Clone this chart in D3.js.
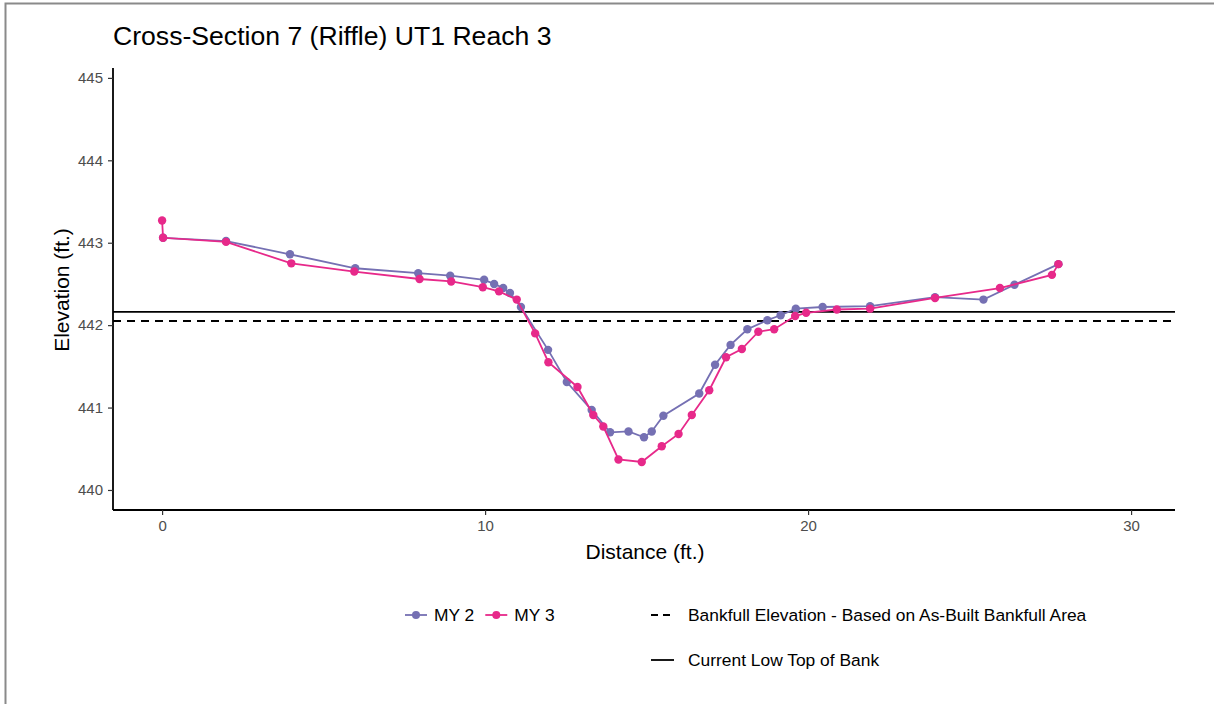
<!DOCTYPE html>
<html>
<head>
  <meta charset="utf-8">
  <title>Cross-Section 7 (Riffle) UT1 Reach 3</title>
  <script src="https://cdn.jsdelivr.net/npm/d3@7"></script>
  <style>
    body { margin: 0; background: #fff; }
    svg text { font-family: "Liberation Sans", Arial, sans-serif; }
  </style>
</head>
<body>
<svg id="chart" width="1214" height="704"></svg>
<script>
// survey points, distance (ft.) and elevation (ft.)
var my2Dist = [0.03, 1.98, 3.96, 5.98, 7.93, 8.92, 9.97, 10.28, 10.56, 10.77, 11.11, 11.95, 12.53, 13.3, 13.87, 14.44, 14.92, 15.16, 15.52, 16.63, 17.12, 17.6, 18.12, 18.74, 19.15, 19.62, 20.45, 21.92, 23.93, 25.43, 26.39, 27.75];
var my2Elev = [443.06, 443.02, 442.86, 442.69, 442.63, 442.60, 442.55, 442.50, 442.45, 442.39, 442.22, 441.70, 441.31, 440.97, 440.70, 440.71, 440.64, 440.71, 440.90, 441.17, 441.52, 441.76, 441.95, 442.06, 442.12, 442.20, 442.22, 442.23, 442.34, 442.31, 442.49, 442.74];
var my3Dist = [0, 0.03, 1.98, 4.0, 5.95, 7.97, 8.95, 9.93, 10.43, 10.98, 11.55, 11.96, 12.86, 13.35, 13.66, 14.13, 14.85, 15.47, 15.99, 16.4, 16.94, 17.46, 17.95, 18.46, 18.95, 19.6, 19.94, 20.89, 21.92, 23.93, 25.94, 27.55, 27.75];
var my3Elev = [443.27, 443.06, 443.01, 442.75, 442.65, 442.56, 442.53, 442.46, 442.41, 442.31, 441.90, 441.55, 441.25, 440.91, 440.77, 440.37, 440.34, 440.53, 440.68, 440.91, 441.21, 441.61, 441.71, 441.92, 441.95, 442.11, 442.15, 442.19, 442.20, 442.33, 442.45, 442.61, 442.74];
var bankfullElev = 442.05;
var lowTopOfBank = 442.16;
var xTicks = [0, 10, 20, 30];
var yTicks = [440, 441, 442, 443, 444, 445];

(function() {
  var svg = d3.select("#chart");

  // frame round the picture
  svg.append("rect").attr("x", 5.5).attr("y", 3.5).attr("width", 1220).attr("height", 720)
    .attr("fill", "none").attr("stroke", "#8a8a8a").attr("stroke-width", 2);

  var pLeft = 113, pRight = 1175, pTop = 68, pBottom = 510;
  var x = d3.scaleLinear().domain([-1.52, 31.36]).range([pLeft, pRight]);
  var y = d3.scaleLinear().domain([439.757, 445.12]).range([pBottom, pTop]);

  // reference lines
  svg.append("line").attr("x1", pLeft).attr("x2", pRight)
    .attr("y1", y(lowTopOfBank)).attr("y2", y(lowTopOfBank))
    .attr("stroke", "#000").attr("stroke-width", 1.8);
  svg.append("line").attr("x1", pLeft).attr("x2", pRight)
    .attr("y1", y(bankfullElev)).attr("y2", y(bankfullElev))
    .attr("stroke", "#000").attr("stroke-width", 1.8).attr("stroke-dasharray", "8,6");

  var series = [
    { name: "MY 2", color: "#7570B3", xs: my2Dist, ys: my2Elev },
    { name: "MY 3", color: "#E7298A", xs: my3Dist, ys: my3Elev }
  ];

  var line = d3.line().x(function(d) { return x(d[0]); }).y(function(d) { return y(d[1]); });

  series.forEach(function(s) {
    var pts = s.xs.map(function(v, i) { return [v, s.ys[i]]; });
    svg.append("path").datum(pts).attr("d", line)
      .attr("fill", "none").attr("stroke", s.color).attr("stroke-width", 1.8);
    svg.append("g").selectAll("circle").data(pts).enter().append("circle")
      .attr("cx", function(d) { return x(d[0]); })
      .attr("cy", function(d) { return y(d[1]); })
      .attr("r", 4.2).attr("fill", s.color);
  });

  // axes
  var xAxis = svg.append("g").attr("transform", "translate(0," + pBottom + ")")
    .call(d3.axisBottom(x).tickValues(xTicks).tickSize(5).tickPadding(5).tickFormat(d3.format("d")));
  var yAxis = svg.append("g").attr("transform", "translate(" + pLeft + ",0)")
    .call(d3.axisLeft(y).tickValues(yTicks).tickSize(5).tickPadding(5).tickFormat(d3.format("d")));
  [xAxis, yAxis].forEach(function(a) {
    a.select(".domain").attr("stroke", "#000").attr("stroke-width", 1.8);
    a.selectAll(".tick line").attr("stroke", "#333").attr("stroke-width", 1.2);
    a.selectAll(".tick text").attr("fill", "#4d4d4d").style("font-size", "15px");
  });
  xAxis.select(".domain").attr("d", "M" + pLeft + ",0H" + pRight);
  yAxis.select(".domain").attr("d", "M0," + pTop + "V" + pBottom);

  svg.append("text").attr("x", 113).attr("y", 45).attr("fill", "#000")
    .style("font-size", "26.6px").text("Cross-Section 7 (Riffle) UT1 Reach 3");
  svg.append("text").attr("x", 645).attr("y", 559).attr("text-anchor", "middle")
    .style("font-size", "21px").text("Distance (ft.)");
  svg.append("text").attr("transform", "translate(69,290) rotate(-90)")
    .attr("text-anchor", "middle").style("font-size", "21px").text("Elevation (ft.)");

  // legend
  var leg = svg.append("g");
  var lx = 405;
  series.forEach(function(s) {
    leg.append("line").attr("x1", lx).attr("x2", lx + 22).attr("y1", 615).attr("y2", 615)
      .attr("stroke", s.color).attr("stroke-width", 1.8);
    leg.append("circle").attr("cx", lx + 11).attr("cy", 615).attr("r", 4).attr("fill", s.color);
    var t = leg.append("text").attr("x", lx + 29).attr("y", 621).style("font-size", "17.4px").text(s.name);
    lx += 29 + t.node().getComputedTextLength() + 11;
  });
  var refKeys = [
    { label: "Bankfull Elevation - Based on As-Built Bankfull Area", dash: "7,5", y: 615 },
    { label: "Current Low Top of Bank", dash: null, y: 660 }
  ];
  refKeys.forEach(function(k) {
    var l = leg.append("line").attr("x1", 651).attr("x2", 674).attr("y1", k.y).attr("y2", k.y)
      .attr("stroke", "#000").attr("stroke-width", 1.8);
    if (k.dash) l.attr("stroke-dasharray", k.dash);
    leg.append("text").attr("x", 688).attr("y", k.y + 6).style("font-size", "17.4px").text(k.label);
  });
})();
</script>
</body>
</html>
